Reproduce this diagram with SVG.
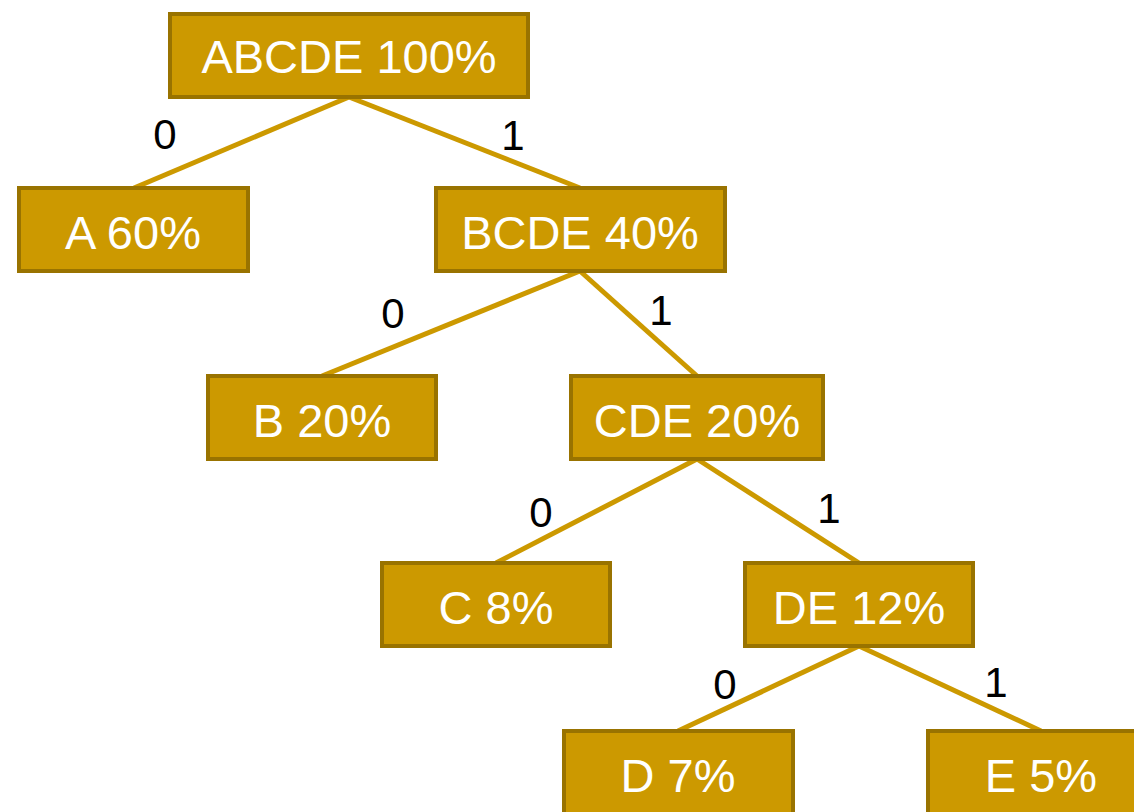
<svg xmlns="http://www.w3.org/2000/svg" width="1134" height="812" viewBox="0 0 1134 812">
<style>
.box{fill:#CC9900;stroke:#997300;stroke-width:4;}
.t{font-family:"Liberation Sans",Arial,sans-serif;font-size:47px;fill:#FFFFFF;text-anchor:middle;}
.l{font-family:"Liberation Sans",Arial,sans-serif;font-size:42px;fill:#000000;text-anchor:middle;}
.e{stroke:#CC9900;stroke-width:5;fill:none;}
</style>
<rect width="1134" height="812" fill="#FFFFFF"/>
<g id="connectors">
<line class="e" x1="349" y1="97" x2="134" y2="188"/>
<line class="e" x1="349" y1="97" x2="580" y2="188"/>
<line class="e" x1="580" y1="271" x2="322" y2="376"/>
<line class="e" x1="580" y1="271" x2="697" y2="376"/>
<line class="e" x1="697" y1="459" x2="496" y2="563"/>
<line class="e" x1="697" y1="459" x2="859" y2="563"/>
<line class="e" x1="859" y1="646" x2="678" y2="731"/>
<line class="e" x1="859" y1="646" x2="1041" y2="731"/>
<text class="l" x="165" y="149">0</text>
<text class="l" x="513" y="150">1</text>
<text class="l" x="393" y="328">0</text>
<text class="l" x="661" y="325">1</text>
<text class="l" x="541" y="527">0</text>
<text class="l" x="829" y="523">1</text>
<text class="l" x="725" y="699">0</text>
<text class="l" x="996" y="697">1</text>
</g>
<g id="n-abcde"><rect class="box" x="170" y="14" width="358" height="83"/><text class="t" x="349" y="73">ABCDE 100%</text></g>
<g id="n-a"><rect class="box" x="19" y="188" width="229" height="83"/><text class="t" x="133" y="249">A 60%</text></g>
<g id="n-bcde"><rect class="box" x="436" y="188" width="289" height="83"/><text class="t" x="580" y="249">BCDE 40%</text></g>
<g id="n-b"><rect class="box" x="208" y="376" width="228" height="83"/><text class="t" x="322" y="437">B 20%</text></g>
<g id="n-cde"><rect class="box" x="571" y="376" width="252" height="83"/><text class="t" x="697" y="437">CDE 20%</text></g>
<g id="n-c"><rect class="box" x="382" y="563" width="228" height="83"/><text class="t" x="496" y="624">C 8%</text></g>
<g id="n-de"><rect class="box" x="745" y="563" width="228" height="83"/><text class="t" x="859" y="624">DE 12%</text></g>
<g id="n-d"><rect class="box" x="564" y="731" width="229" height="83"/><text class="t" x="678" y="792">D 7%</text></g>
<g id="n-e"><rect class="box" x="928" y="731" width="229" height="83"/><text class="t" x="1041" y="792">E 5%</text></g>
</svg>
